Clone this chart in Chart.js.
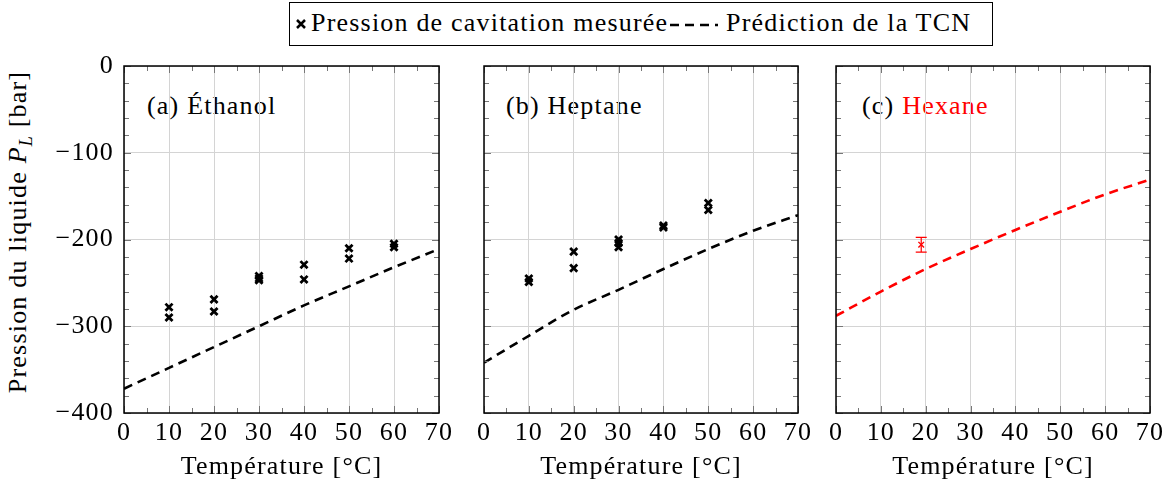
<!DOCTYPE html>
<html>
<head>
<meta charset="utf-8">
<script src="https://cdn.jsdelivr.net/npm/chart.js@4.4.1/dist/chart.umd.min.js"></script>
<style>
  body { margin: 0; background: #fff; width: 1170px; height: 489px; position: relative; overflow: hidden;
         font-family: "Liberation Serif", "DejaVu Serif", "Times New Roman", serif; font-size: 26px; color: #000;
         letter-spacing: 1.2px; }
  canvas { position: absolute; top: 0; }
  .lbl { position: absolute; white-space: nowrap; line-height: 30px; }
  #legend { position: absolute; left: 289px; top: 2px; width: 704px; height: 44px; box-sizing: border-box;
            border: 1.3px solid #000; }
  #legend span, #legend svg { position: absolute; }
  #ytitle { position: absolute; left: 22px; top: 232px; transform: translate(-50%, -50%) rotate(-90deg);
            white-space: nowrap; line-height: 30px; }
</style>
</head>
<body>
<div id="legend">
  <svg style="left:5px;top:15px" width="12" height="12"><path d="M2 2 L10 10 M10 2 L2 10" stroke="#000" stroke-width="2.5"/></svg>
  <span style="left:21px;top:5px;line-height:30px">Pression de cavitation mesurée</span>
  <svg style="left:380px;top:19px" width="48" height="6"><line x1="0" y1="3" x2="48" y2="3" stroke="#000" stroke-width="2.6" stroke-dasharray="9,6"/></svg>
  <span style="left:436px;top:5px;line-height:30px">Prédiction de la TCN</span>
</div>
<div id="ytitle">Pression du liquide <i>P<sub style="font-size:18px">L</sub></i> [bar]</div>
<div class="lbl" style="left:147px;top:91px">(a) Éthanol</div>
<div class="lbl" style="left:506px;top:91px">(b) Heptane</div>
<div class="lbl" style="left:862px;top:91px">(c) <span style="color:#ff0000">Hexane</span></div>

<canvas id="c1" width="460" height="489" style="left:0px"></canvas>
<canvas id="c2" width="358" height="489" style="left:460px"></canvas>
<canvas id="c3" width="352" height="489" style="left:818px"></canvas>

<script>
// Axes
const xTicks = [0, 10, 20, 30, 40, 50, 60, 70];
const yTicks = [-400, -300, -200, -100, 0];
const xMinorStep = 5;
const yMinorStep = 20;

// TCN prediction (read at every 10 °C)
const temps = [0, 10, 20, 30, 40, 50, 60, 70];
const ethanolTcn = [-372, -348, -324, -300, -276, -254, -232, -211];
const heptaneTcn = [-342, -311, -281, -258, -234, -211, -190, -172];
const hexaneTcn = [-288, -260, -234, -211, -189, -168, -148, -131];

// Measured cavitation pressure
const ethanolT = [10, 10, 20, 20, 30, 30, 30, 40, 40, 50, 50, 60, 60];
const ethanolP = [-278, -290, -269, -283, -242, -245, -247, -229, -246, -210, -222, -205, -209];
const heptaneT = [10, 10, 20, 20, 30, 30, 30, 40, 40, 50, 50];
const heptaneP = [-245, -249, -214, -233, -200, -204, -209, -184, -186, -158, -166];
const hexaneT = [19];
const hexaneP = [-206];
const hexaneErr = [8.5];

const FONT = '"Liberation Serif", "DejaVu Serif", "Times New Roman", serif';
const minus = v => (v < 0 ? '\u2212' + Math.abs(v) : String(v));

// wider spacing, closer to the Computer Modern look
const spacingPlugin = {
    id: 'spacing',
    beforeLayout(chart) { chart.ctx.letterSpacing = '1.2px'; },
    beforeDraw(chart) { chart.ctx.letterSpacing = '1.2px'; }
};

// frame with inside ticks on all four sides
const framePlugin = {
    id: 'frame',
    afterDatasetsDraw(chart) {
        const { ctx, chartArea: a, scales: { x, y } } = chart;
        ctx.save();
        ctx.strokeStyle = '#777';
        ctx.lineWidth = 1;
        ctx.beginPath();
        for (let v = xTicks[0]; v <= xTicks[xTicks.length - 1]; v += xMinorStep) {
            const px = Math.round(x.getPixelForValue(v)) + 0.5;
            const len = v % 10 === 0 ? 7 : 5;
            ctx.moveTo(px, a.bottom); ctx.lineTo(px, a.bottom - len);
            ctx.moveTo(px, a.top); ctx.lineTo(px, a.top + len);
        }
        for (let v = yTicks[0]; v <= yTicks[yTicks.length - 1]; v += yMinorStep) {
            const py = Math.round(y.getPixelForValue(v)) + 0.5;
            const len = v % 100 === 0 ? 7 : 5;
            ctx.moveTo(a.left, py); ctx.lineTo(a.left + len, py);
            ctx.moveTo(a.right, py); ctx.lineTo(a.right - len, py);
        }
        ctx.stroke();
        ctx.strokeStyle = '#000';
        ctx.lineWidth = 1.5;
        ctx.strokeRect(a.left, a.top, a.width, a.height);
        ctx.restore();
    }
};

// vertical error bars
const errorBarPlugin = {
    id: 'errorBars',
    afterDatasetsDraw(chart, args, opts) {
        if (!opts.x) return;
        const { ctx, scales: { x, y } } = chart;
        ctx.save();
        ctx.strokeStyle = opts.color;
        ctx.lineWidth = 1.2;
        opts.x.forEach((t, i) => {
            const px = x.getPixelForValue(t);
            const y1 = y.getPixelForValue(opts.y[i] - opts.err[i]);
            const y2 = y.getPixelForValue(opts.y[i] + opts.err[i]);
            ctx.beginPath();
            ctx.moveTo(px, y1); ctx.lineTo(px, y2);
            ctx.moveTo(px - 5.5, y1); ctx.lineTo(px + 5.5, y1);
            ctx.moveTo(px - 5.5, y2); ctx.lineTo(px + 5.5, y2);
            ctx.stroke();
        });
        ctx.restore();
    }
};

function makePanel(id, tcn, measT, measP, color, yWidth, showY, rightPad, err, markerSize) {
    const ctx = document.getElementById(id).getContext('2d');
    return new Chart(ctx, {
        type: 'scatter',
        data: {
            datasets: [{
                label: 'Prédiction de la TCN',
                data: temps.map((t, i) => ({ x: t, y: tcn[i] })),
                showLine: true,
                borderColor: color,
                borderWidth: 2.6,
                borderDash: [9, 6],
                pointRadius: 0,
                cubicInterpolationMode: 'monotone'
            }, {
                label: 'Pression de cavitation mesurée',
                data: measT.map((t, i) => ({ x: t, y: measP[i] })),
                showLine: false,
                pointStyle: 'crossRot',
                pointRadius: markerSize,
                borderColor: color,
                borderWidth: markerSize > 4 ? 2.8 : 1.4
            }]
        },
        options: {
            responsive: false,
            animation: false,
            devicePixelRatio: 1,
            layout: { padding: { top: 66, right: rightPad, left: 0, bottom: 0 } },
            plugins: {
                legend: { display: false },
                tooltip: { enabled: false },
                errorBars: err
            },
            scales: {
                x: {
                    type: 'linear', min: 0, max: 70,
                    afterBuildTicks: s => { s.ticks = xTicks.map(v => ({ value: v })); },
                    afterFit: s => { s.height = 76; },
                    grid: { color: '#d4d4d4', lineWidth: 1, drawTicks: false },
                    border: { display: false },
                    ticks: { autoSkip: false, maxRotation: 0, padding: 5, color: '#000',
                             font: { family: FONT, size: 26 } },
                    title: { display: true, text: 'Température [°C]', color: '#000',
                             font: { family: FONT, size: 26 }, padding: { top: 0, bottom: 6 } }
                },
                y: {
                    type: 'linear', min: -400, max: 0,
                    afterBuildTicks: s => { s.ticks = yTicks.map(v => ({ value: v })); },
                    afterFit: s => { s.width = yWidth; },
                    grid: { color: '#d4d4d4', lineWidth: 1, drawTicks: false },
                    border: { display: false },
                    ticks: { display: showY, padding: 10, color: '#000', callback: minus,
                             font: { family: FONT, size: 26 } }
                }
            }
        },
        plugins: [spacingPlugin, framePlugin, errorBarPlugin]
    });
}

makePanel('c1', ethanolTcn, ethanolT, ethanolP, '#000', 124, true, 21, {}, 5);
makePanel('c2', heptaneTcn, heptaneT, heptaneP, '#000', 24, false, 20, {}, 5);
makePanel('c3', hexaneTcn, hexaneT, hexaneP, '#ff0000', 18, false, 20,
    { x: hexaneT, y: hexaneP, err: hexaneErr, color: '#ff0000' }, 4);
</script>
</body>
</html>
